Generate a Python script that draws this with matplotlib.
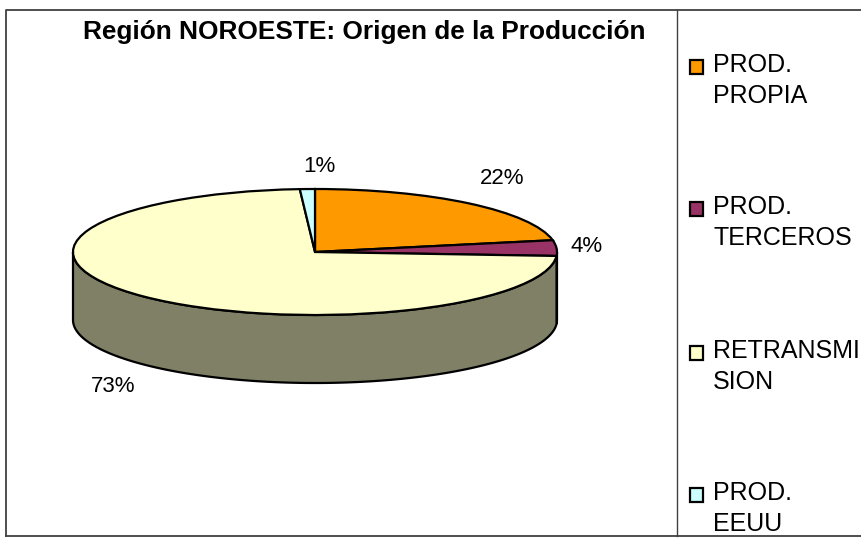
"""
Region NOROESTE pie: origin of the production, drawn as a tilted 3D pie.
"""

import numpy as np
import matplotlib
matplotlib.use("Agg")
import matplotlib.pyplot as plt
from matplotlib.patches import Rectangle

plt.rcParams["font.family"] = ["Liberation Sans", "DejaVu Sans"]

# =========================================================
# Data
# =========================================================
TITLE = "Región NOROESTE: Origen de la Producción"
categories = ["PROD.\nPROPIA", "PROD.\nTERCEROS", "RETRANSMI\nSION", "PROD.\nEEUU"]
values = [22, 4, 73, 1]
colors = ["#FF9900", "#993366", "#FFFFCC", "#CCFFFF"]
wall_colors = ["#804D00", "#4D1A33", "#808066", "#668080"]

# =========================================================
# Layout (pixels of the 861x538 picture)
# =========================================================
W, H = 861, 538
PIE_LEFT, PIE_RIGHT = 73, 557
PIE_TOP, PIE_BOTTOM = 189, 315
DEPTH = 68
label_xy = [(502, 178), (587, 246), (113, 387), (319, 167)]
legend_y = [59, 201, 345, 487]

fig = plt.figure(figsize=(W / 100, H / 100), dpi=100)

# pixel overlay for frame, text and legend
bg = fig.add_axes([0, 0, 1, 1])
bg.set_xlim(0, W)
bg.set_ylim(H, 0)
bg.axis("off")

bg.plot([6, 6, W], [536, 10, 10], color="#404040", lw=1.3, clip_on=False)
bg.plot([6, W], [536, 536], color="#404040", lw=1.3, clip_on=False)
bg.plot([677, 677], [10, 536], color="#404040", lw=1.0)

bg.text(364.5, 32, TITLE, fontsize=18.9, fontweight="bold", ha="center", va="center")

# ----- Pie top -----
ax = fig.add_axes([PIE_LEFT / W, 1 - PIE_BOTTOM / H,
                   (PIE_RIGHT - PIE_LEFT) / W, (PIE_BOTTOM - PIE_TOP) / H])
wedges, _ = ax.pie(values, colors=colors, startangle=90, counterclock=False,
                   radius=1, wedgeprops=dict(edgecolor="black", linewidth=1.6, zorder=3))
ax.set_aspect("auto")
ax.set_xlim(-1, 1)
ax.set_ylim(-1, 1)
for w in wedges:
    w.set_clip_on(False)

# ----- Side wall: only the front half (90-270 deg clockwise from top) shows -----
depth = 2 * DEPTH / (PIE_BOTTOM - PIE_TOP)
edges = np.cumsum([0] + values) / sum(values) * 360
for a0, a1, c in zip(edges[:-1], edges[1:], wall_colors):
    a0, a1 = max(a0, 90), min(a1, 270)
    if a1 <= a0:
        continue
    t = np.radians(np.linspace(a0, a1, 200))
    x, y = np.sin(t), np.cos(t)
    ax.fill(np.r_[x, x[::-1]], np.r_[y, y[::-1] - depth], facecolor=c,
            edgecolor="black", linewidth=1.6, clip_on=False, zorder=1)

# ----- Percent labels -----
for (lx, ly), v in zip(label_xy, values):
    bg.text(lx, ly, f"{v}%", fontsize=16, ha="center", va="center")

# ----- Legend -----
for name, c, ly in zip(categories, colors, legend_y):
    bg.add_patch(Rectangle((690, ly + 1), 13, 14, facecolor=c, edgecolor="black", linewidth=1.6))
    bg.text(713, ly - 6, name, fontsize=18.0, ha="left", va="top", linespacing=1.38, clip_on=True)

fig.savefig("out.png", dpi=100)
